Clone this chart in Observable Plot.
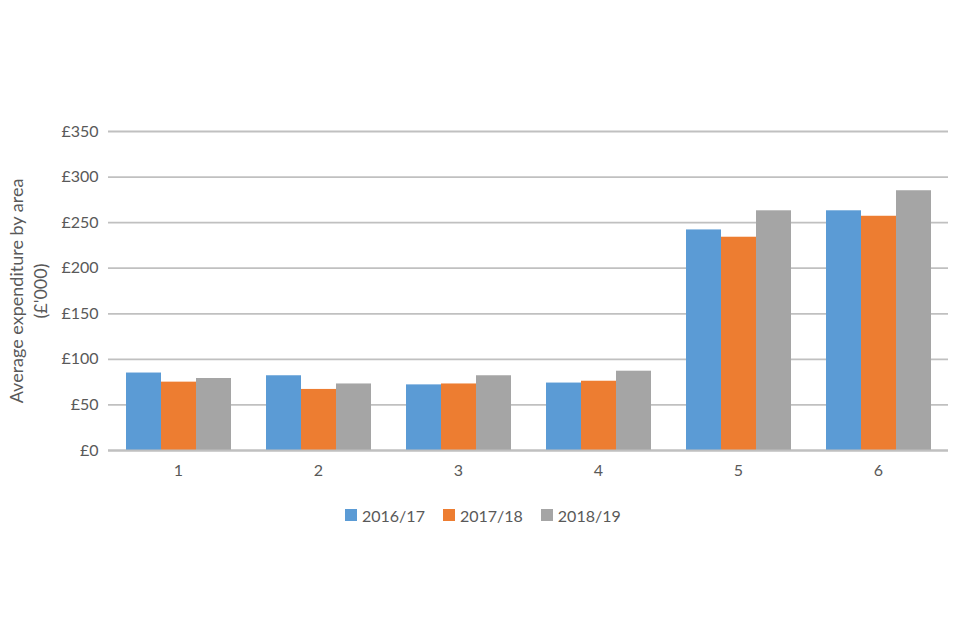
<!DOCTYPE html>
<html>
<head>
<meta charset="utf-8">
<script src="https://cdn.jsdelivr.net/npm/d3@7"></script>
<script src="https://cdn.jsdelivr.net/npm/@observablehq/plot@0.6"></script>
<style>
  html, body { margin: 0; padding: 0; background: #fff; width: 960px; height: 640px; overflow: hidden; }
  #legend { display: flex; align-items: center; height: 40px; padding-left: 345px; font-family: Lato, sans-serif; font-size: 16px; color: #595959; }
  .item { display: flex; align-items: center; margin-right: 18px; }
  .sw { width: 12px; height: 12px; margin-right: 5px; }
</style>
</head>
<body>
<div id="chart"></div>
<div id="legend"></div>
<script>
const categories = ["1", "2", "3", "4", "5", "6"];
const series = ["2016/17", "2017/18", "2018/19"];
const s2016 = [85, 82, 72, 74, 242, 263];
const s2017 = [75, 67, 73, 76, 234, 257];
const s2018 = [79, 73, 82, 87, 263, 285];
const yTicks = [0, 50, 100, 150, 200, 250, 300, 350];
const yLabel = "Average expenditure by area\n(£'000)";
const colors = ["#5b9bd5", "#ed7d31", "#a5a5a5"];

const values = [s2016, s2017, s2018];
const data = categories.flatMap((c, i) => series.map((s, j) => ({cat: c, series: s, value: values[j][i]})));

const chart = Plot.plot({
  width: 960, height: 495,
  marginTop: 131, marginBottom: 45, marginLeft: 108, marginRight: 12,
  style: {fontFamily: "Lato, sans-serif", fontSize: "16px", color: "#595959", background: "white"},
  fx: {domain: categories, padding: 0, label: null, axis: "bottom", tickSize: 0, tickPadding: 14},
  x: {domain: series, paddingInner: 0, paddingOuter: 0.5, axis: null},
  y: {domain: [0, 350], ticks: yTicks, tickFormat: d => "£" + d, tickSize: 0, tickPadding: 10, label: null},
  color: {domain: series, range: colors},
  marks: [
    Plot.ruleY(yTicks, {stroke: "#c0c0c0", strokeWidth: 1.8}),
    Plot.barY(data, {fx: "cat", x: "series", y: "value", fill: "series"}),
    Plot.ruleY([0], {stroke: "#c0c0c0", strokeWidth: 1.8}),
    Plot.text([yLabel], {frameAnchor: "left", textAnchor: "middle", rotate: -90, dx: -81, facetAnchor: "left", fontSize: 18, lineHeight: 1.3, fill: "#595959"})
  ]
});
document.getElementById("chart").appendChild(chart);

const legend = document.getElementById("legend");
series.forEach((s, i) => {
  const it = document.createElement("div");
  it.className = "item";
  const sw = document.createElement("div");
  sw.className = "sw";
  sw.style.background = colors[i];
  const t = document.createElement("span");
  t.textContent = s;
  it.appendChild(sw); it.appendChild(t);
  legend.appendChild(it);
});
</script>
</body>
</html>
